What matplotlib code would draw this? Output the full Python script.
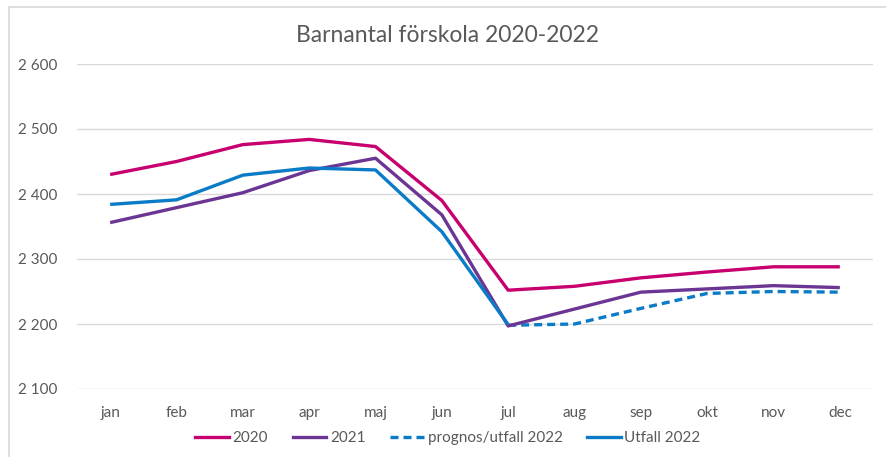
import matplotlib
matplotlib.use("Agg")
import matplotlib.pyplot as plt
from matplotlib.ticker import FuncFormatter
from matplotlib.lines import Line2D

months = ["jan", "feb", "mar", "apr", "maj", "jun", "jul", "aug", "sep", "okt", "nov", "dec"]
v2020 = [2430, 2450, 2476, 2484, 2473, 2390, 2252, 2258, 2271, 2280, 2288, 2288]
v2021 = [2356, 2379, 2402, 2436, 2455, 2368, 2197, 2223, 2249, 2254, 2259, 2256]
prognos_months = ["jul", "aug", "sep", "okt", "nov", "dec"]
prognos2022 = [2198, 2200, 2224, 2247, 2250, 2249]
utfall_months = ["jan", "feb", "mar", "apr", "maj", "jun", "jul"]
utfall2022 = [2384, 2391, 2429, 2440, 2437, 2342, 2199]
yticks = [2100, 2200, 2300, 2400, 2500, 2600]

c2020 = "#C8006F"
c2021 = "#6B3594"
cblue = "#0A7BC6"
tc = "#595959"

plt.rcParams['font.family'] = ['Lato', 'DejaVu Sans']

fig = plt.figure(figsize=(8.87, 4.57), dpi=100)
ax = fig.add_axes([77/887, 1-389/457, 796/887, (389-64)/457])

x = list(range(len(months)))
idx = {m: i for i, m in enumerate(months)}
lw = 2.4
ax.plot(x, v2020, color=c2020, lw=lw, solid_capstyle='butt', zorder=3)
ax.plot(x, v2021, color=c2021, lw=lw, solid_capstyle='butt', zorder=3)
ax.plot([idx[m] for m in prognos_months], prognos2022, color=cblue, lw=lw,
        linestyle=(0, (2.4, 1.5)), zorder=2)
ax.plot([idx[m] for m in utfall_months], utfall2022, color=cblue, lw=lw,
        solid_capstyle='butt', zorder=4)

ax.set_xlim(-0.5, 11.5)
ax.set_ylim(2100, 2600)
ax.set_yticks(yticks)
ax.yaxis.set_major_formatter(FuncFormatter(lambda v, p: f"{int(v):,}".replace(",", " ")))
ax.set_xticks(x)
ax.set_xticklabels(months)
ax.grid(axis='y', color='#D9D9D9', lw=1)
ax.set_axisbelow(True)
for s in ax.spines.values():
    s.set_visible(False)
ax.tick_params(axis='both', length=0, colors=tc, labelsize=11)
ax.tick_params(axis='y', pad=14)
ax.tick_params(axis='x', pad=12)

fig.text(448/887, 1-35/457, "Barnantal förskola 2020-2022", ha='center', va='center',
         fontsize=16.5, color=tc)

handles = [
    Line2D([], [], color=c2020, lw=lw),
    Line2D([], [], color=c2021, lw=lw),
    Line2D([], [], color=cblue, lw=lw, linestyle=(0, (2.4, 1.5))),
    Line2D([], [], color=cblue, lw=lw),
]
labels = ["2020", "2021", "prognos/utfall 2022", "Utfall 2022"]
leg = fig.legend(handles, labels, loc='center', bbox_to_anchor=(448/887, 1-438/457),
                 ncol=4, frameon=False, fontsize=11, handlelength=2.2,
                 handletextpad=0.25, columnspacing=1.6, labelcolor=tc)

# chart border (partially cropped)
fig.add_artist(Line2D([9/887, 9/887], [0, 1-7/457], color='#D9D9D9', lw=1.2,
                      transform=fig.transFigure))
fig.add_artist(Line2D([9/887, 1], [1-7/457, 1-7/457], color='#D9D9D9', lw=1.2,
                      transform=fig.transFigure))

fig.savefig("out.png", dpi=100)
